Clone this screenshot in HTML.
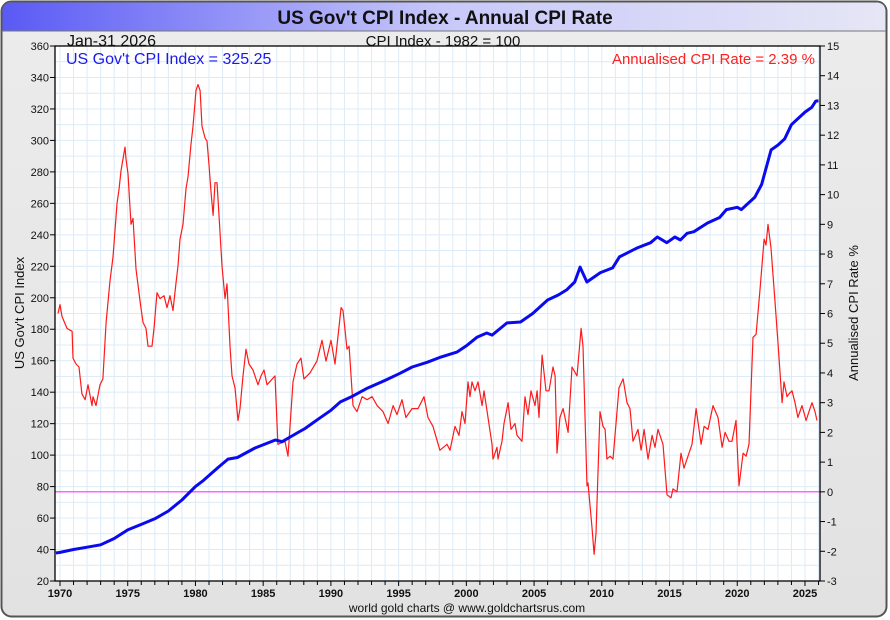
<!DOCTYPE html>
<html><head><meta charset="utf-8"><style>
body{margin:0;background:#fff;}
svg{display:block;font-family:"Liberation Sans",sans-serif;}
</style></head><body>
<svg id="chart" width="890" height="620" viewBox="0 0 890 620">
<defs>
<linearGradient id="tg" x1="0" x2="1" y1="0" y2="0">
<stop offset="0" stop-color="#5a5af5"/><stop offset="0.5" stop-color="#c8c8fa"/><stop offset="1" stop-color="#e6e6f6"/>
</linearGradient>
<linearGradient id="bg" x1="0" x2="0" y1="0" y2="1">
<stop offset="0" stop-color="#ececec"/><stop offset="1" stop-color="#e2e2e2"/>
</linearGradient>
</defs>
<rect x="1.5" y="1.5" width="885" height="615" rx="10" fill="url(#bg)" stroke="#555" stroke-width="2"/>
<path d="M2.5,31 L2.5,12 Q2.5,2.5 12,2.5 L876,2.5 Q885.5,2.5 885.5,12 L885.5,31 Z" fill="url(#tg)"/>
<line x1="2" y1="31" x2="886" y2="31" stroke="#777" stroke-width="1"/>
<text x="445" y="24" text-anchor="middle" font-size="19" font-weight="bold" fill="#111">US Gov't CPI Index - Annual CPI Rate</text>
<rect x="55" y="46" width="765" height="535" fill="#fff"/>
<g id="grid"></g>
<line x1="55" y1="491.8" x2="820" y2="491.8" stroke="#ff33ff" stroke-width="1.2"/>
<g id="series"></g>
<rect x="55" y="46" width="765" height="535" fill="none" stroke="#000" stroke-width="1.3"/>
<g id="axes" font-size="11" fill="#111"></g>
<text x="67" y="46" font-size="16" fill="#111">Jan-31  2026</text>
<text x="443" y="46" text-anchor="middle" font-size="15" fill="#111">CPI Index - 1982 = 100</text>
<text x="66" y="64" font-size="16" fill="#1a1aee">US Gov't CPI Index = 325.25</text>
<text x="815" y="64" text-anchor="end" font-size="15" fill="#ff2020">Annualised CPI Rate = 2.39 %</text>
<text transform="translate(24,313) rotate(-90)" text-anchor="middle" font-size="13" fill="#111">US Gov't CPI Index</text>
<text transform="translate(858,313) rotate(-90)" text-anchor="middle" font-size="13" fill="#111">Annualised CPI Rate %</text>
<text x="467" y="612" text-anchor="middle" font-size="12" fill="#111">world gold charts @ www.goldchartsrus.com</text>
</svg>
<script>
const cpiYears=[1969.7,1970,1971,1972,1973,1974,1975,1976,1977,1978,1979,1980,1980.6,1981.7,1982.4,1983.1,1984.4,1985.9,1986.4,1987.7,1988.1,1989,1990,1990.7,1991.5,1992.7,1994,1995.1,1996,1997.1,1998,1999.3,2000,2000.8,2001.5,2001.9,2003,2004,2004.9,2006,2006.8,2007.4,2008,2008.4,2008.9,2009.9,2010.8,2011.3,2012.6,2013.6,2014.1,2014.8,2015.4,2015.8,2016.3,2016.8,2017.8,2018.7,2019.2,2020,2020.3,2020.8,2021.3,2021.8,2022.5,2023,2023.5,2024,2024.5,2025,2025.5,2025.8,2026];
const cpiValues=[37.8,38.2,40,41.5,43,47,52.5,56,59.5,64.5,71.5,80,84,92.4,97.5,98.5,104.5,109.6,108.5,115,117,122.5,128.5,133.8,137,142.6,147.5,152,156,159,162,165.5,169.5,175,177.6,176.3,184,184.6,190,198.6,201.8,205,210,219.5,210,216,219,226,231.6,235,238.6,235,238.6,236.7,241,242,247.5,251,256,257.5,256,260,264,272,294,297,301,310,314,318,321,325,325.2];
const rateYears=[
1969.85,1970.00,1970.15,1970.52,1970.89,1970.96,1971.18,1971.40,1971.62,1971.85,
1972.07,1972.36,1972.44,1972.66,1972.95,1973.17,1973.40,1973.69,1973.91,1974.13,
1974.21,1974.36,1974.50,1974.65,1974.80,1974.87,1975.02,1975.24,1975.39,1975.61,
1975.91,1976.13,1976.35,1976.50,1976.79,1976.94,1977.16,1977.38,1977.68,1977.90,
1978.12,1978.34,1978.56,1978.71,1978.86,1979.08,1979.30,1979.45,1979.67,1979.82,
1980.04,1980.19,1980.34,1980.48,1980.71,1980.85,1981.00,1981.15,1981.30,1981.44,
1981.59,1981.74,1981.96,1982.18,1982.33,1982.55,1982.70,1982.92,1983.14,1983.29,
1983.51,1983.73,1983.95,1984.25,1984.62,1984.84,1985.06,1985.28,1985.87,1986.09,
1986.61,1986.83,1987.20,1987.50,1987.79,1988.01,1988.46,1988.97,1989.34,1989.64,
1990.01,1990.30,1990.75,1990.89,1991.19,1991.34,1991.63,1991.93,1992.30,1992.67,
1993.04,1993.41,1993.85,1994.22,1994.59,1994.88,1995.25,1995.54,1995.99,1996.43,
1996.87,1997.17,1997.54,1998.05,1998.57,1998.79,1999.16,1999.46,1999.68,1999.90,
2000.12,2000.27,2000.42,2000.64,2000.86,2001.16,2001.30,2001.60,2001.89,2001.97,
2002.26,2002.34,2002.63,2002.78,2003.08,2003.30,2003.59,2003.74,2004.11,2004.33,
2004.55,2004.77,2005.07,2005.22,2005.36,2005.59,2005.88,2006.10,2006.40,2006.55,
2006.69,2006.91,2007.14,2007.51,2007.80,2008.17,2008.47,2008.61,2008.91,2008.98,
2009.28,2009.43,2009.57,2009.87,2010.09,2010.24,2010.38,2010.61,2010.83,2011.05,
2011.27,2011.57,2011.86,2012.08,2012.30,2012.67,2012.90,2013.12,2013.41,2013.71,
2013.93,2014.15,2014.52,2014.81,2015.11,2015.26,2015.55,2015.85,2016.07,2016.29,
2016.66,2016.96,2017.33,2017.55,2017.84,2018.21,2018.58,2018.88,2019.10,2019.39,
2019.61,2019.91,2020.13,2020.43,2020.65,2020.87,2021.16,2021.39,2021.68,2021.98,
2022.12,2022.27,2022.49,2022.79,2023.01,2023.31,2023.45,2023.67,2023.82,2024.04,
2024.26,2024.48,2024.78,2025.08,2025.30,2025.52,2025.74,2025.89];
const rateValues=[
6.0,6.3,5.9,5.5,5.4,4.5,4.3,4.2,3.3,3.1,
3.6,2.9,3.2,2.9,3.6,3.8,5.7,7.1,7.9,9.2,
9.7,10.2,10.8,11.2,11.6,11.2,10.7,9.0,9.2,7.5,
6.4,5.7,5.5,4.9,4.9,5.5,6.7,6.5,6.6,6.2,
6.6,6.1,7.0,7.6,8.5,9.0,10.2,10.6,11.7,12.3,
13.5,13.7,13.5,12.3,11.9,11.8,11.0,10.1,9.3,10.4,
10.4,9.3,7.6,6.5,7.0,4.9,3.9,3.5,2.4,2.8,
3.9,4.8,4.3,4.1,3.6,3.9,4.1,3.6,3.9,1.6,
1.7,1.2,3.7,4.3,4.5,3.8,4.0,4.4,5.1,4.4,
5.1,4.3,6.2,6.1,4.8,4.9,2.9,2.7,3.2,3.1,
3.2,2.9,2.7,2.3,2.9,2.6,3.1,2.5,2.8,2.8,
3.2,2.5,2.2,1.4,1.6,1.4,2.2,1.9,2.7,2.3,
3.7,3.2,3.7,3.4,3.7,2.9,3.4,2.5,1.6,1.1,
1.5,1.1,1.7,2.3,3.0,2.1,2.3,1.9,1.7,3.2,
2.6,3.4,2.9,3.4,2.5,4.6,3.4,3.4,4.2,3.9,
1.3,2.5,2.8,2.0,4.2,3.9,5.5,4.9,0.2,0.3,
-1.2,-2.1,-1.4,2.7,2.2,2.1,1.1,1.2,1.1,2.3,
3.5,3.8,3.0,2.8,1.7,2.1,1.4,2.1,1.1,1.9,
1.5,2.1,1.6,-0.1,-0.2,0.1,0.0,1.3,0.8,1.1,
1.6,2.8,1.6,2.2,2.1,2.9,2.5,1.5,2.0,1.7,
1.7,2.4,0.2,1.3,1.2,1.6,5.2,5.3,6.8,8.5,
8.3,9.0,8.2,6.4,5.0,3.0,3.7,3.2,3.3,3.4,
3.0,2.5,2.9,2.4,2.7,3.0,2.7,2.4];
const leftTicks=[20,40,60,80,100,120,140,160,180,200,220,240,260,280,300,320,340,360];
const rightTicks=[-3,-2,-1,0,1,2,3,4,5,6,7,8,9,10,11,12,13,14,15];
const yearLabels=[1970,1975,1980,1985,1990,1995,2000,2005,2010,2015,2020,2025];

const X0=55,X1=820,Y0=46,Y1=581;
const xS=y=>60+(y-1970)*13.545;
const yL=v=>Y1-(v-20)*(Y1-Y0)/340;
const yR=v=>Y1-(v+3)*(Y1-Y0)/18;
const NS='http://www.w3.org/2000/svg';
function mk(tag,attrs,parent){const e=document.createElementNS(NS,tag);for(const k in attrs)e.setAttribute(k,attrs[k]);parent.appendChild(e);return e;}
const grid=document.getElementById('grid'),axes=document.getElementById('axes'),series=document.getElementById('series');
for(let yr=1970;yr<=2026;yr++){const x=xS(yr);
  const g=mk('line',{x1:x,x2:x,y1:Y0,y2:Y1,stroke:'#dcebf7','stroke-width':1},grid);
  
  
  const t=mk('line',{x1:x,x2:x,y1:Y1,y2:Y1+(yr%5===0?5:4),stroke:'#000','stroke-width':1},axes);
  
  
}
for(let v=20;v<=360;v+=10){const y=yL(v);
  const g=mk('line',{x1:X0,x2:X1,y1:y,y2:y,stroke:'#dcebf7','stroke-width':1},grid);
  
  
}
leftTicks.forEach(v=>{const y=yL(v);
  const t=mk('line',{x1:X0-5,x2:X0,y1:y,y2:y,stroke:'#000'},axes);
  
  
  const l=mk('text',{x:X0-6,y:y+4,'text-anchor':'end'},axes);l.textContent=v;
  
  
});
rightTicks.forEach(v=>{const y=yR(v);
  const t=mk('line',{x1:X1,x2:X1+5,y1:y,y2:y,stroke:'#000'},axes);
  
  
  const l=mk('text',{x:X1+7,y:y+4},axes);l.textContent=v;
  
  
});
yearLabels.forEach(yr=>{
  const l=mk('text',{x:xS(yr),y:Y1+16,'text-anchor':'middle','font-weight':'bold'},axes);l.textContent=yr;
  
  
});
const rp=mk('polyline',{points:rateYears.map((y,i)=>xS(y).toFixed(1)+','+yR(rateValues[i]).toFixed(1)).join(' '),fill:'none',stroke:'#ff1a1a','stroke-width':1.2,'stroke-linejoin':'round'},series);


const cp=mk('polyline',{points:cpiYears.map((y,i)=>xS(y).toFixed(1)+','+yL(cpiValues[i]).toFixed(1)).join(' '),fill:'none',stroke:'#0a0aee','stroke-width':3,'stroke-linejoin':'round'},series);


</script>
</body></html>
